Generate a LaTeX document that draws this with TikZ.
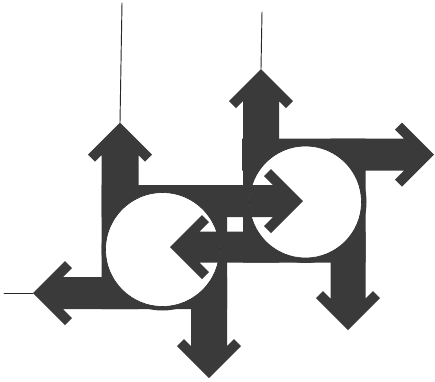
\documentclass[tikz,border=0pt]{standalone}
\usetikzlibrary{calc}
\definecolor{inkGray}{HTML}{3A3A3A}

% tip coordinate, direction, length from tip to tail, half width of the shaft
\newcommand{\fatarrow}[4]{%
  \fill[ink, shift={(#1)}, rotate=#2]
    (0,0) -- (-32,32) -- (-39,25) -- (-14-#4,#4) -- (-#3,#4)
    -- (-#3,-#4) -- (-14-#4,-#4) -- (-39,-25) -- (-32,-32) -- cycle;}

\begin{document}
\begin{tikzpicture}[x=0.03cm, y=-0.03cm,
    ink/.style={fill=inkGray},
    hole/.style={fill=white, draw=black!85, line width=0.5pt},
    wire/.style={draw=black!85, line width=0.8pt, line cap=round},
  ]
  \fill[white] (0,0) rectangle (435,382);

  % centres of the two discs
  \coordinate (cL) at (162.5,249.5);
  \coordinate (cR) at (305.5,202);

  % arrow tips
  \coordinate (tUpL)   at (120,122.5);
  \coordinate (tLeft)  at (33,293);
  \coordinate (tDown)  at (209,378);
  \coordinate (tInR)   at (303,201);
  \coordinate (tUpR)   at (261,69);
  \coordinate (tRight) at (434,154.5);
  \coordinate (tDownR) at (348,330);
  \coordinate (tInL)   at (170,247);

  % free ends of the thin lines
  \coordinate (wUpL)  at (122,3);
  \coordinate (wUpR)  at (262,12);
  \coordinate (wLeft) at (4,293);

  % rings
  \fill[ink] (cL) circle (61);
  \fill[ink] (cR) circle (61);

  % left group
  \fatarrow{tUpL}{90}{186.5}{18.5}
  \fatarrow{tLeft}{180}{194}{16}
  \fatarrow{tDown}{-90}{193}{18}
  \fatarrow{tInR}{0}{201.5}{16}

  % right group
  \fatarrow{tUpR}{90}{193.5}{18}
  \fatarrow{tRight}{0}{192}{16}
  \fatarrow{tDownR}{-90}{191.5}{17.5}
  \fatarrow{tInL}{180}{195.5}{15.5}

  % discs
  \draw[hole] (cL) circle (57);
  \draw[hole] (cR) circle (56);

  % heads reaching into the discs
  \begin{scope}
    \clip (cL) circle (57);
    \fatarrow{tInL}{180}{195.5}{15.5}
  \end{scope}
  \begin{scope}
    \clip (cR) circle (56);
    \fatarrow{tInR}{0}{201.5}{16}
  \end{scope}

  % thin lines
  \draw[wire] (tUpL) -- (wUpL);
  \draw[wire] (tUpR) -- (wUpR);
  \draw[wire] (tLeft) -- (wLeft);
\end{tikzpicture}
\end{document}
